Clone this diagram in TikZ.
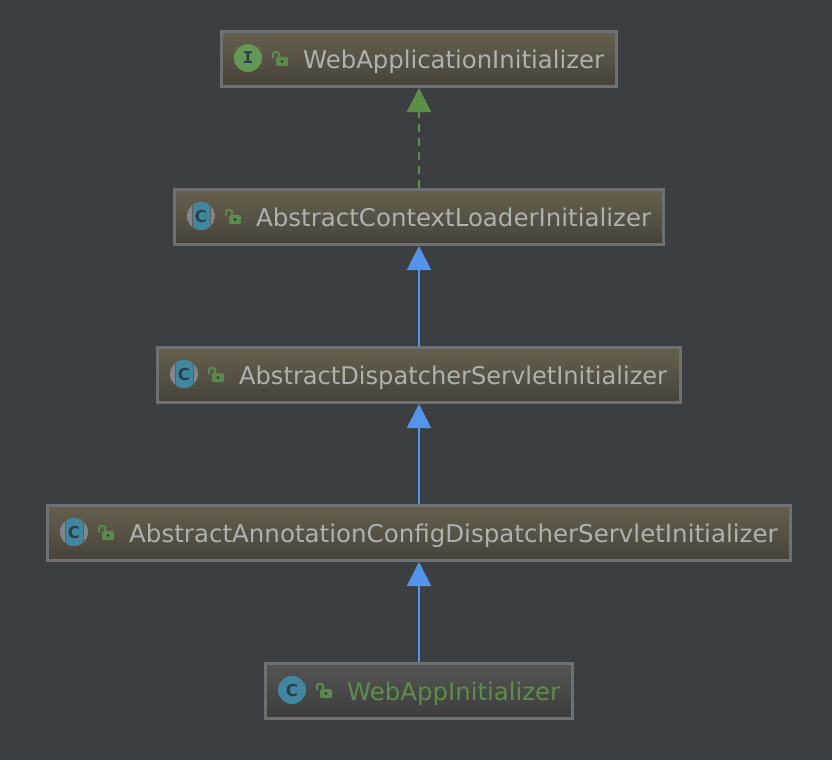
\documentclass[tikz,border=0pt]{standalone}
\usepackage{fontspec}
\setmainfont{DejaVu Sans}
\newfontfamily\glyphfont{Liberation Mono}
\usetikzlibrary{arrows.meta,shadings}
\definecolor{bgc}{HTML}{3C3F41}
\definecolor{edgec}{HTML}{6E7173}
\definecolor{boxtop}{HTML}{665F4D}
\definecolor{boxbot}{HTML}{45423A}
\definecolor{plaintop}{HTML}{555555}
\definecolor{plainbot}{HTML}{3C3C3C}
\definecolor{txt}{HTML}{AFB1B1}
\definecolor{grn}{HTML}{5B8F49}
\definecolor{ifgreen}{HTML}{629755}
\definecolor{blu}{HTML}{5394EC}
\definecolor{teal}{HTML}{40869F}
\definecolor{capgray}{HTML}{7F878B}
\definecolor{gapc}{HTML}{5F5F58}
\definecolor{glyph}{HTML}{2B3F4A}
\tikzset{
  x=1pt,y=-1pt,
  classbox/.style={draw=edgec,line width=3pt,minimum height=55pt,inner sep=0pt,top color=boxtop,bottom color=boxbot,middle color=boxtop!55!boxbot},
  plainbox/.style={classbox,top color=plaintop,bottom color=plainbot,middle color=plaintop!50!plainbot},
  label/.style={font=\fontsize{24.4}{28}\selectfont,text=txt,anchor=base west,inner sep=0pt,transform shape},
  ext/.style={draw=blu,line width=2pt,-{Triangle[width=24pt,length=24pt,fill=blu]}},
  impl/.style={draw=grn,line width=2.2pt,dash pattern=on 8pt off 6pt,-{Triangle[width=24pt,length=24pt,fill=grn]}},
  letter/.style={font=\fontsize{16.5}{17}\bfseries\selectfont,text=glyph,inner sep=0pt},
  pics/lock/.style={code={
    \fill[ifgreen!92!black,rounded corners=1.5pt] (0,-3) rectangle (12,6);
    \fill[bgc!70!black] (6,1.5) circle (1.4);
    \draw[ifgreen!92!black,line width=2pt,rounded corners=1.5pt] (3,-3) -- (3,-8) -- (-3,-8) -- (-3,-2);
  }},
  pics/absicon/.style={code={
    \begin{scope}
      \clip (0,0) circle (14);
      \fill[capgray] (-14,-14) rectangle (14,14);
      \fill[gapc] (-9.5,-14) rectangle (9.5,14);
      \fill[teal] (-8.5,-14) rectangle (8.5,14);
    \end{scope}
  }}
}
\begin{document}
\begin{tikzpicture}
\useasboundingbox (0,0) rectangle (832,760);
\fill[bgc] (0,0) rectangle (832,760);
\node[classbox,minimum width=395pt] (a) at (419,59) {};
\node[classbox,minimum width=489pt] (b) at (419,217) {};
\node[classbox,minimum width=523pt] (c) at (419,375) {};
\node[classbox,minimum width=743pt] (d) at (419,533) {};
\node[plainbox,minimum width=307pt] (e) at (419,691) {};
\draw[impl] (b.north) -- (a.south);
\draw[ext] (c.north) -- (b.south);
\draw[ext] (d.north) -- (c.south);
\draw[ext] (e.north) -- (d.south);
% top
\fill[ifgreen] (248,58) circle (14);
\node[letter,font=\fontsize{18}{18}\glyphfont\bfseries\selectfont] (ia) at (248,58) {I};
\pic at (276,60) {lock};
\node[label,xscale=0.997] (ta) at (303,68) {WebApplicationInitializer};
% abstract classes
\pic at (201,216) {absicon};
\node[letter] (ib) at (201,216) {C};
\pic at (229,218) {lock};
\node[label,xscale=1.003] (tb) at (256,226) {AbstractContextLoaderInitializer};
\pic at (184,374) {absicon};
\node[letter] (ic) at (184,374) {C};
\pic at (212,376) {lock};
\node[label,xscale=0.988] (tc) at (239,384) {AbstractDispatcherServletInitializer};
\pic at (74,532) {absicon};
\node[letter] (id) at (74,532) {C};
\pic at (102,534) {lock};
\node[label,xscale=1.005] (td) at (129,542) {AbstractAnnotationConfigDispatcherServletInitializer};
% concrete
\fill[teal] (292,690) circle (14);
\node[letter] (ie) at (292,690) {C};
\pic at (320,692) {lock};
\node[label,text=grn] (te) at (347,700) {WebAppInitializer};
\end{tikzpicture}
\end{document}
